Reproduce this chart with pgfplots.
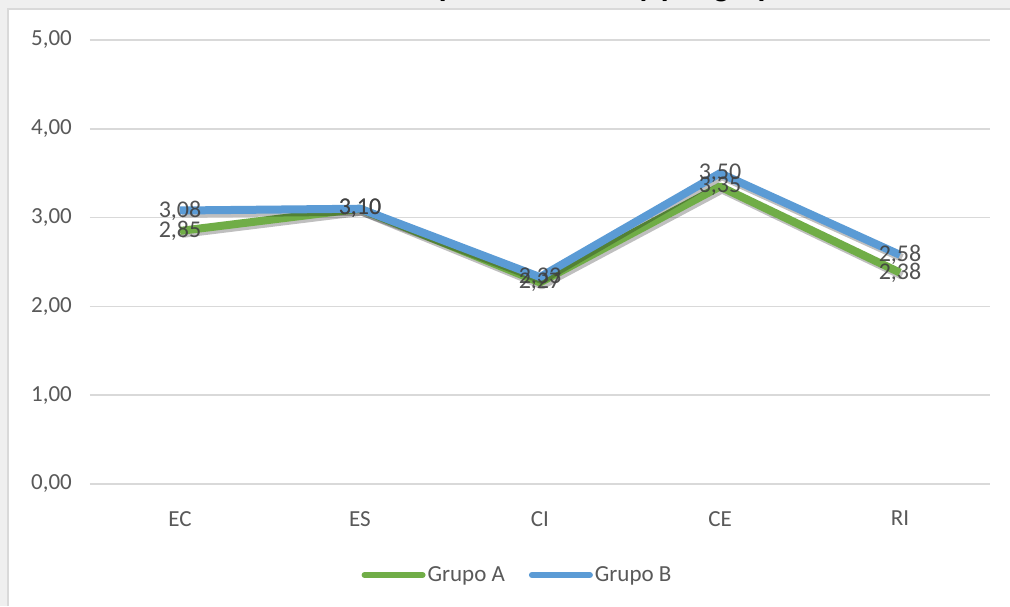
\documentclass[border=0pt]{standalone}
\usepackage{pgfplots}
\pgfplotsset{compat=1.18}
\usepackage{fontspec}
\setmainfont{Carlito}
\definecolor{gA}{HTML}{70AD47}
\definecolor{gB}{HTML}{5B9BD5}
\definecolor{gridc}{HTML}{D9D9D9}
\definecolor{txt}{HTML}{595959}
\definecolor{lab}{HTML}{404040}
\definecolor{bg}{HTML}{EFEFEF}
\pgfplotstableread{
x y
0 2.85
1 3.10
2 2.27
3 3.35
4 2.38
}\grupoA
\pgfplotstableread{
x y
0 3.08
1 3.10
2 2.33
3 3.50
4 2.58
}\grupoB
\begin{document}
\begin{tikzpicture}[x=1pt,y=1pt]
\useasboundingbox (0,0) rectangle (1010,606);
\fill[bg] (0,0) rectangle (1010,606);
\fill[white] (8,0) rectangle (1010,597);
\draw[gridc, line width=1.5pt] (8,0) -- (8,597) -- (1010,597);
\node[font=\bfseries\fontsize{32}{36}\selectfont, anchor=base east, inner sep=0pt] at (792,609.5) {Media por dimensión y por grupo};
\begin{axis}[
  at={(90pt,122pt)}, anchor=south west,
  scale only axis, width=900pt, height=444pt,
  xmin=-0.5, xmax=4.5, ymin=0, ymax=5,
  xtick={0,1,2,3,4}, xticklabels={EC,ES,CI,CE,RI},
  ytick={0,1,2,3,4,5},
  axis line style={draw=none},
  ymajorgrids, grid style={gridc, line width=1.5pt},
  major tick length=0pt,
  tick label style={font=\fontsize{23}{26}\selectfont, text=txt},
  yticklabel style={inner sep=0pt, anchor=east, xshift=-18pt,
    /pgf/number format/.cd, fixed, fixed zerofill, precision=2, use comma, assume math mode=true},
  xticklabel style={inner sep=0pt, anchor=north, yshift=-27pt},
  clip=false,
  legend columns=2,
  legend style={draw=none, fill=none, at={(0.475,-0.205)}, anchor=center,
    font=\fontsize{23}{26}\selectfont, text=txt,
    /tikz/every even column/.append style={column sep=22pt}},
  legend cell align=left,
  legend image code/.code={\draw[#1, line width=6pt, line cap=round] (0pt,0pt) -- (58pt,0pt);},
]
\addplot[black, opacity=0.25, line width=8pt, line join=round, xshift=2pt, yshift=-3pt, forget plot] table[x=x,y=y] {\grupoA};
\addplot[gA, line width=8pt, line join=round] table[x=x,y=y] {\grupoA};
\addlegendentry{Grupo A}
\addplot[black, opacity=0.25, line width=8pt, line join=round, xshift=2pt, yshift=-3pt, forget plot] table[x=x,y=y] {\grupoB};
\addplot[gB, line width=8pt, line join=round] table[x=x,y=y] {\grupoB};
\addlegendentry{Grupo B}
\addplot[draw=none, forget plot, nodes near coords={\pgfmathprintnumber[fixed,fixed zerofill,precision=2,use comma,assume math mode=true]{\pgfplotspointmeta}},
  every node near coord/.style={anchor=center, inner sep=0pt, text=lab, opacity=0.9, font=\fontsize{24}{26}\selectfont}] table[x=x,y=y] {\grupoA};
\addplot[draw=none, forget plot, nodes near coords={\pgfmathprintnumber[fixed,fixed zerofill,precision=2,use comma,assume math mode=true]{\pgfplotspointmeta}},
  every node near coord/.style={anchor=center, inner sep=0pt, text=lab, opacity=0.9, font=\fontsize{24}{26}\selectfont}] table[x=x,y=y] {\grupoB};
\end{axis}
\end{tikzpicture}
\end{document}
